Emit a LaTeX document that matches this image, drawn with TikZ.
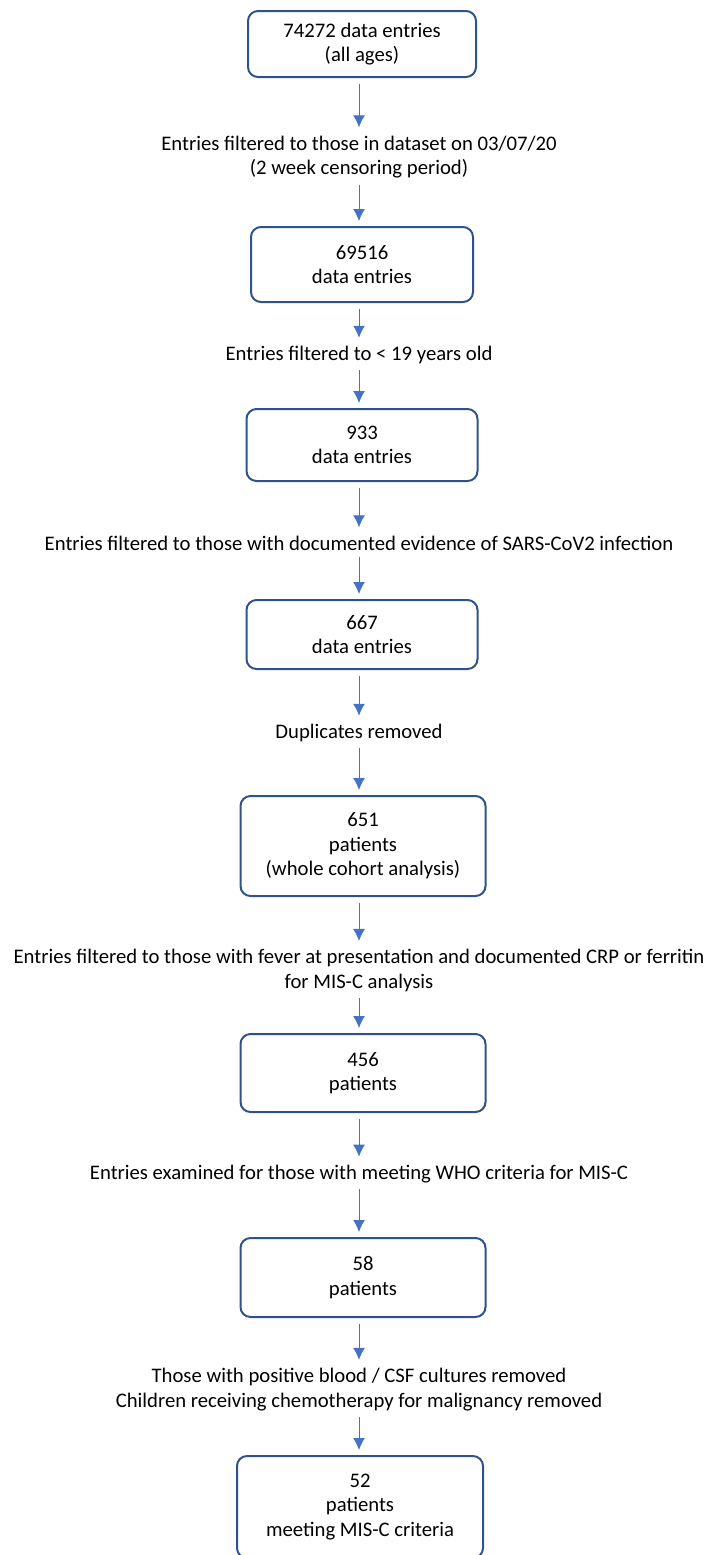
\documentclass[tikz,border=0pt]{standalone}
\usepackage{fontspec}
\setmainfont{Carlito}
\usetikzlibrary{arrows.meta}
\definecolor{boxblue}{HTML}{2F528F}
\definecolor{flowblue}{HTML}{4472C4}
\begin{document}
\begin{tikzpicture}[x=0.5pt, y=-0.5pt,
  font=\fontsize{10.35}{12.3}\selectfont,
  box/.style={draw=boxblue, line width=1pt, rounded corners=5pt, align=center, inner sep=0pt},
  info/.style={align=center, inner sep=0pt},
  flow/.style={-{Latex[length=6pt,width=6pt]}, flowblue, line width=0.5pt},
  tolabel/.style={flow, shorten <=3pt, shorten >=4pt},
  tobox/.style={flow, shorten <=3pt, shorten >=2.5pt}]
  % rand
  \useasboundingbox (0,0) rectangle (707,1555);
  % okvirji
  \node [box, minimum width=114pt, minimum height=33pt] (n1) at (362,44) {74272 data entries\\(all ages)};
  \node [box, minimum width=111pt, minimum height=37.5pt] (n2) at (362,264.5) {69516\\data entries};
  \node [box, minimum width=115.5pt, minimum height=36pt] (n3) at (362,445) {933\\data entries};
  \node [box, minimum width=115.5pt, minimum height=34.5pt] (n4) at (362,634.5) {667\\data entries};
  \node [box, minimum width=122.5pt, minimum height=50pt] (n5) at (363,846) {651\\patients\\(whole cohort analysis)};
  \node [box, minimum width=122.5pt, minimum height=39pt] (n6) at (363,1073) {456\\patients};
  \node [box, minimum width=122.5pt, minimum height=39.5pt] (n7) at (363,1277.5) {58\\patients};
  \node [box, minimum width=123pt, minimum height=51pt] (n8) at (360,1507) {52\\patients\\meeting MIS-C criteria};
  % opisi
  \node [info] (l1) at (359,157) {Entries filtered to those in dataset on 03/07/20\\(2 week censoring period)};
  \node [info] (l2) at (359,355) {Entries filtered to < 19 years old};
  \node [info] (l3) at (359,543) {Entries filtered to those with documented evidence of SARS-CoV2 infection};
  \node [info] (l4) at (359,733) {Duplicates removed};
  \node [info] (l5) at (359,970.5) {Entries filtered to those with fever at presentation and documented CRP or ferritin\\for MIS-C analysis};
  \node [info] (l6) at (359,1174) {Entries examined for those with meeting WHO criteria for MIS-C};
  \node [info] (l7) at (359,1389.5) {Those with positive blood / CSF cultures removed\\Children receiving chemotherapy for malignancy removed};
  % puscice
  \draw [tolabel] (l1.north |- n1.south) -- (l1.north);
  \draw [tobox] (l1.south) -- (l1.south |- n2.north);
  \draw [tolabel] (l2.north |- n2.south) -- (l2.north);
  \draw [tobox] (l2.south) -- (l2.south |- n3.north);
  \draw [tolabel] (l3.north |- n3.south) -- (l3.north);
  \draw [tobox] (l3.south) -- (l3.south |- n4.north);
  \draw [tolabel] (l4.north |- n4.south) -- (l4.north);
  \draw [tobox] (l4.south) -- (l4.south |- n5.north);
  \draw [tolabel] (l5.north |- n5.south) -- (l5.north);
  \draw [tobox] (l5.south) -- (l5.south |- n6.north);
  \draw [tolabel] (l6.north |- n6.south) -- (l6.north);
  \draw [tobox] (l6.south) -- (l6.south |- n7.north);
  \draw [tolabel] (l7.north |- n7.south) -- (l7.north);
  \draw [tobox] (l7.south) -- (l7.south |- n8.north);
\end{tikzpicture}
\end{document}
